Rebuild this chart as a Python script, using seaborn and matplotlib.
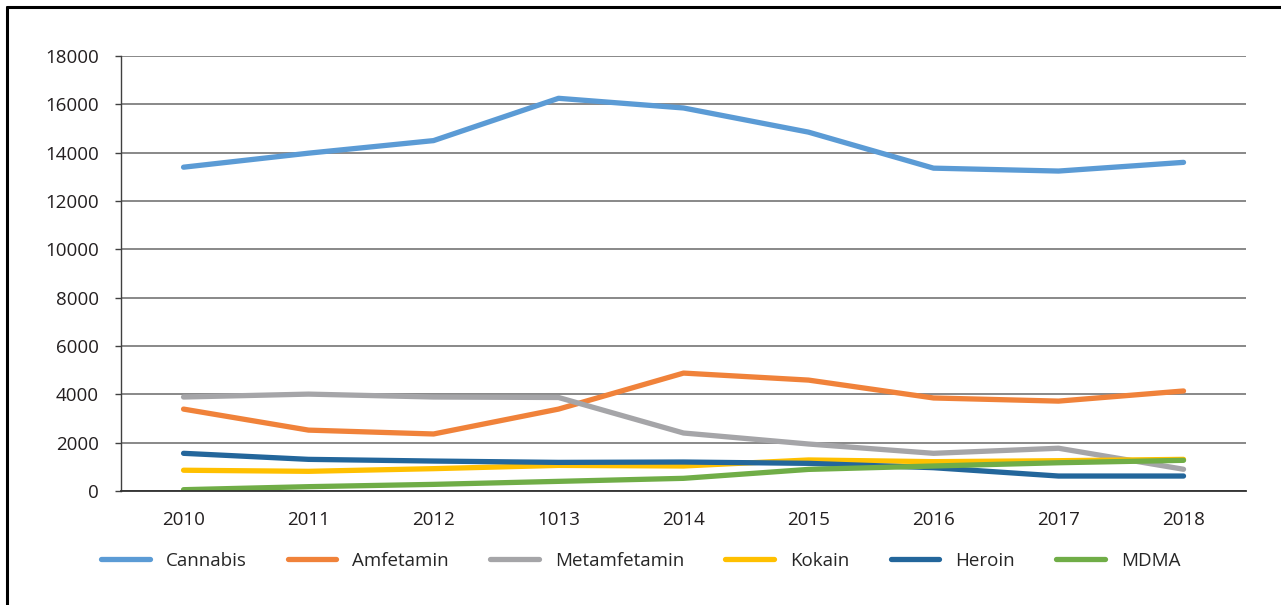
import seaborn as sns
import matplotlib.pyplot as plt
import pandas as pd
from matplotlib.lines import Line2D

sns.set_style("white")
plt.rcParams['font.family'] = ['Open Sans', 'DejaVu Sans']

years = ['2010', '2011', '2012', '1013', '2014', '2015', '2016', '2017', '2018']
cannabis = [13400, 13980, 14500, 16250, 15850, 14850, 13360, 13240, 13600]
amfetamin = [3390, 2520, 2360, 3390, 4880, 4590, 3850, 3720, 4140]
metamfetamin = [3890, 4010, 3890, 3870, 2400, 1945, 1560, 1770, 900]
kokain = [860, 815, 925, 1060, 1035, 1285, 1215, 1255, 1310]
heroin = [1560, 1310, 1240, 1185, 1200, 1145, 965, 620, 620]
mdma = [55, 180, 275, 400, 525, 895, 1035, 1170, 1270]

drugs = ['Cannabis', 'Amfetamin', 'Metamfetamin', 'Kokain', 'Heroin', 'MDMA']
colors = ['#5b9bd5', '#f0823a', '#a5a5a8', '#ffc000', '#23669b', '#70ad47']
series = [cannabis, amfetamin, metamfetamin, kokain, heroin, mdma]

rows = []
for name, vals in zip(drugs, series):
    for i, v in enumerate(vals):
        rows.append({'pos': i, 'year': years[i], 'drug': name, 'value': v})
df = pd.DataFrame(rows)
palette = dict(zip(drugs, colors))

fig = plt.figure(figsize=(12.81, 6.05), dpi=100)
ax = fig.add_axes([0.0945, 0.1884, 0.8782, 0.719])

sns.lineplot(data=df, x='pos', y='value', hue='drug', palette=palette,
             hue_order=drugs, sort=False, legend=False, ax=ax,
             linewidth=3.8, solid_capstyle='round', solid_joinstyle='round')

ax.set_xlim(-0.5, 8.5)
ax.set_ylim(0, 18000)
ax.set_yticks(range(0, 18001, 2000))
ax.set_xticks(range(len(years)))
ax.set_xticklabels(years)
ax.set_xlabel('')
ax.set_ylabel('')
ax.yaxis.grid(True, color='#7f7f7f', linewidth=1.3)
ax.set_axisbelow(True)

for side in ['top', 'right']:
    ax.spines[side].set_visible(False)
ax.spines['left'].set_color('#404040')
ax.spines['left'].set_linewidth(1.0)
ax.spines['bottom'].set_color('#303030')
ax.spines['bottom'].set_linewidth(1.3)

ax.tick_params(axis='y', left=True, length=4, width=1, color='#404040',
               pad=12, labelsize=13.5, labelcolor='#231f20')
ax.tick_params(axis='x', bottom=False, pad=11, labelsize=13.5,
               labelcolor='#231f20')

handles = [Line2D([0], [0], color=c, linewidth=3.8, solid_capstyle='round')
           for c in colors]
fig.legend(handles, drugs, loc='center', bbox_to_anchor=(0.5, 0.073),
           ncol=6, frameon=False, fontsize=13.5, handlelength=2.6,
           handletextpad=0.85, columnspacing=2.2)

# frame around the figure (left and top edges)
fig.add_artist(Line2D([0.0055, 0.0055], [0, 0.9885], color='black',
                      linewidth=2.2, transform=fig.transFigure))
fig.add_artist(Line2D([0.0055, 1.0], [0.9885, 0.9885], color='black',
                      linewidth=2.2, transform=fig.transFigure))

fig.savefig('out.png', dpi=100, facecolor='white')
